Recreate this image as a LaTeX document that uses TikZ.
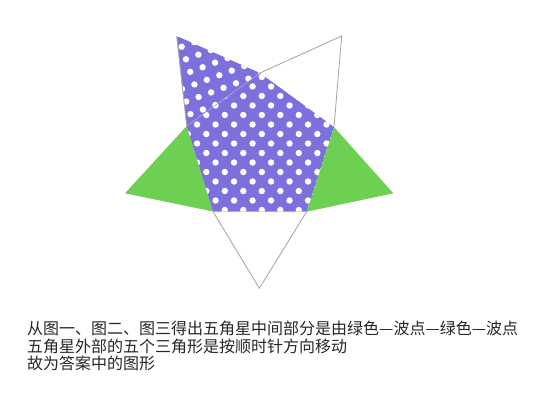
\documentclass[tikz,border=0pt]{standalone}
\usepackage{fontspec}
\newfontfamily\cjk{Noto Sans CJK SC}
\usepackage{tikz}
\definecolor{dotpurple}{RGB}{124,113,220}
\definecolor{leafgreen}{RGB}{110,208,82}
\definecolor{rimgray}{RGB}{170,170,170}

\begin{document}
\begin{tikzpicture}[x=1pt,y=-1pt,
   dotted piece/.style={fill=dotpurple},
   green piece/.style={fill=leafgreen},
   rim/.style={draw=rimgray,line width=0.9pt,line join=miter},
   dot/.style={fill=white}]
   \useasboundingbox (0,0) rectangle (552,405);
   % outer points and inner corners of the star
   \coordinate (tl)  at (176.7,36);
   \coordinate (tr)  at (341.7,36);
   \coordinate (rt)  at (393.3,193.3);
   \coordinate (bt)  at (259.3,288.3);
   \coordinate (lf)  at (125,193.3);
   \coordinate (it)  at (260,73);
   \coordinate (iur) at (334,127);
   \coordinate (ilr) at (306.7,211.7);
   \coordinate (ill) at (213,211.5);
   \coordinate (iul) at (186.7,126);
   % green triangles
   \fill[green piece] (lf) -- (iul) -- (ill) -- cycle;
   \fill[green piece] (iur) -- (rt) -- (ilr) -- cycle;
   % dotted pentagon
   \begin{scope}
      \clip (it) -- (iur) -- (ilr) -- (ill) -- (iul) -- cycle;
      \fill[dotted piece] (it) -- (iur) -- (ilr) -- (ill) -- (iul) -- cycle;
      \foreach \i in {-7,...,12}
         \foreach \j in {-12,...,12}
            \fill[dot] ({243.3+18.5*\j+9.25*\i},{115+9.5*\i}) circle[radius=3.2pt];
   \end{scope}
   % dotted top-left point, turned a little
   \begin{scope}
      \clip (tl) -- (it) -- (iul) -- cycle;
      \fill[dotted piece] (tl) -- (it) -- (iul) -- cycle;
      \foreach \i in {-3,...,10}
         \foreach \j in {-8,...,8}
            \fill[dot] ({181.7+16.68*\j+4.24*\i},{46.7+7.99*\j+12.57*\i}) circle[radius=3.2pt];
   \end{scope}
   \draw[draw=white!35!dotpurple,line width=0.6pt] (it) -- (iul);
   % outline of the empty points
   \draw[rim] (iul) -- (tl);
   \draw[rim] (it) -- (tr) -- (iur);
   \draw[rim] (ilr) -- (bt) -- (ill);
   \node[anchor=north west,align=left,inner sep=0pt,text=black!85,
         font=\cjk\fontsize{16}{17.5}\selectfont] (note) at (27,321)
      {从图一、图二、图三得出五角星中间部分是由绿色—波点—绿色—波点\\
       五角星外部的五个三角形是按顺时针方向移动\\
       故为答案中的图形};
\end{tikzpicture}
\end{document}
